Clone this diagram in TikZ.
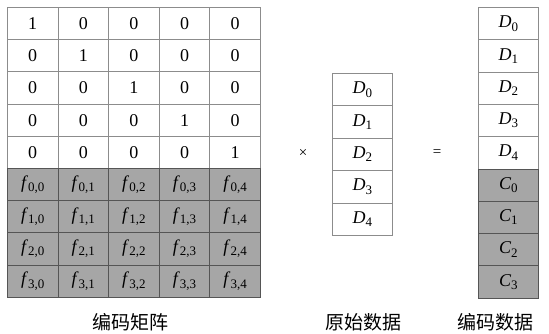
\documentclass[tikz,border=0pt]{standalone}
\usepackage{fontspec}
\setmainfont{Liberation Serif}
\newfontfamily\cjk{Noto Sans CJK SC}
\definecolor{linegray}{RGB}{140,140,140}
\definecolor{darkline}{RGB}{85,85,85}
\definecolor{cellgray}{RGB}{166,166,166}
\newcommand\symsub[2]{\textit{#1}\raisebox{-0.4ex}{\fontsize{13}{13}\selectfont #2}}
\begin{document}
\begin{tikzpicture}[x=1pt,y=-1pt]
\useasboundingbox (0,0) rectangle (549,333);
\tikzset{
  cell/.style={draw=linegray, line width=0.8pt, minimum width=50.6pt, minimum height=32.2pt,
    inner sep=0pt, anchor=north west, font=\fontsize{18}{18}\selectfont},
  gcell/.style={cell, fill=cellgray, draw=darkline},
  vcell/.style={cell, minimum width=60pt},
  gvcell/.style={vcell, fill=cellgray, draw=darkline},
  op/.style={font=\fontsize{15}{15}\selectfont, inner sep=0pt},
  caplabel/.style={font=\cjk\fontsize{19}{19}\selectfont, inner sep=0pt}
}
% coding matrix
\foreach \r in {0,...,4}{
  \foreach \c in {0,...,4}{
    \node[cell] (m\r\c) at ({7+50.6*\c},{7+32.2*\r}) {\ifnum\r=\c\relax 1\else 0\fi};
  }
}
\foreach \r in {0,...,3}{
  \foreach \c in {0,...,4}{
    \node[gcell] (f\r\c) at ({7+50.6*\c},{7+32.2*(\r+5)}) {\symsub{f}{\r,\c}};
  }
}
% original data
\foreach \i in {0,...,4}{
  \node[vcell, minimum height=32.4pt] (d\i) at (332,{73+32.4*\i}) {\symsub{D}{\i}};
}
% encoded data
\foreach \i in {0,...,4}{
  \node[vcell, minimum height=32.3pt] (e\i) at (478,{7+32.3*\i}) {\symsub{D}{\i}};
}
\foreach \i in {0,...,3}{
  \node[gvcell, minimum height=32.3pt] (c\i) at (478,{7+32.3*(\i+5)}) {\symsub{C}{\i}};
}
\node[op] (times) at (303,153) {×};
\node[op] (eq) at (437,153) {=};
\node[caplabel] (l1) at (130,322) {编码矩阵};
\node[caplabel] (l2) at (363,322) {原始数据};
\node[caplabel] (l3) at (495,322) {编码数据};
\end{tikzpicture}
\end{document}
